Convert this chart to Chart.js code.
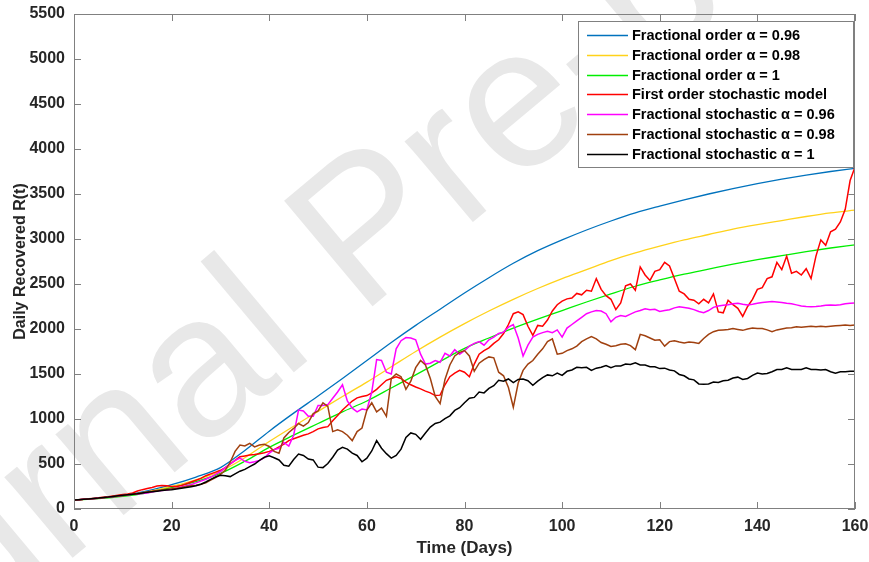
<!DOCTYPE html>
<html>
<head>
<meta charset="utf-8">
<title>Daily Recovered R(t)</title>
<script src="https://cdn.jsdelivr.net/npm/chart.js@4.4.1/dist/chart.umd.min.js"></script>
<style>
  html, body { margin: 0; padding: 0; background: #fff; }
  #wrap { width: 869px; height: 562px; }
</style>
</head>
<body>
<div id="wrap"><canvas id="chart" width="869" height="562"></canvas></div>
<script>
// axis ticks
const xTicks = [0, 20, 40, 60, 80, 100, 120, 140, 160];
const yTicks = [0, 500, 1000, 1500, 2000, 2500, 3000, 3500, 4000, 4500, 5000, 5500];

// time grid (days) for the stochastic runs, one value per day
const days = Array.from({ length: 161 }, (_, i) => i);
// coarser grid for the smooth fractional-order curves
const smoothDays = [0, 5, 10, 15, 20, 25, 30, 35, 40, 45, 50, 55, 60, 65, 70, 75, 80,
  85, 90, 95, 100, 105, 110, 115, 120, 125, 130, 135, 140, 145, 150, 155, 160];

const fracOrder096 = [100, 120, 150, 200, 270, 355, 460, 650, 865, 1065, 1255, 1450, 1650, 1850, 2040, 2220, 2400,
  2570, 2730, 2870, 2990, 3100, 3200, 3290, 3365, 3435, 3500, 3560, 3615, 3665, 3710, 3750, 3785];
const fracOrder098 = [100, 118, 145, 190, 250, 325, 420, 570, 750, 920, 1085, 1250, 1410, 1580, 1750, 1910, 2060,
  2200, 2330, 2450, 2560, 2660, 2760, 2845, 2920, 2990, 3050, 3110, 3160, 3205, 3250, 3290, 3320];
const fracOrder1 = [100, 115, 140, 180, 238, 305, 395, 530, 685, 820, 950, 1080, 1200, 1345, 1490, 1640, 1785,
  1900, 2010, 2110, 2205, 2300, 2390, 2475, 2545, 2610, 2665, 2720, 2770, 2815, 2860, 2900, 2935];

const firstOrderStoch = [
  100, 104, 108, 113, 118, 124, 130, 137, 145, 152,
  160, 168, 178, 200, 215, 228, 240, 255, 262, 258,
  250, 250, 262, 280, 300, 320, 340, 370, 390, 410,
  430, 460, 500, 540, 580, 590, 600, 605, 615, 625,
  640, 660, 690, 720, 760, 780, 800, 820, 835, 860,
  890, 905, 915, 980, 1040, 1100, 1150, 1200, 1235, 1250,
  1260, 1290, 1330, 1380, 1430, 1450, 1470, 1450, 1410, 1380,
  1355, 1335, 1310, 1290, 1260, 1265, 1380, 1470, 1510, 1540,
  1520, 1470, 1610, 1720, 1760, 1790, 1840, 1880, 1950, 2050,
  2170, 2190, 2160, 2030, 1930, 2040, 2030, 2100, 2200, 2270,
  2310, 2335, 2345, 2395, 2380, 2430, 2420, 2560, 2440, 2370,
  2330, 2215, 2290, 2480, 2500, 2430, 2690, 2600, 2540, 2640,
  2660, 2740, 2700, 2560, 2420, 2390, 2330, 2320, 2280, 2330,
  2290, 2390, 2190, 2180, 2320, 2270, 2230, 2140, 2250, 2330,
  2440, 2460, 2560, 2580, 2740, 2660, 2810, 2620, 2640, 2600,
  2670, 2560, 2810, 2990, 2930, 3080, 3110, 3190, 3330, 3650,
  3800];

const fracStoch096 = [
  100, 103, 107, 111, 115, 120, 125, 131, 137, 143,
  150, 156, 163, 168, 172, 178, 190, 200, 205, 212,
  222, 232, 245, 258, 272, 290, 310, 330, 355, 385,
  415, 460, 500, 540, 565, 530, 515, 525, 540, 570,
  620, 660, 675, 740, 700, 820, 1100, 1090, 1030, 1030,
  1150, 1150, 1160, 1230, 1300, 1380, 1200, 1120, 1080, 1110,
  1100, 1300, 1660, 1650, 1520, 1500, 1780, 1870, 1905, 1900,
  1880, 1720, 1610, 1620, 1650, 1630, 1730, 1700, 1770, 1720,
  1760, 1810, 1840, 1860, 1820, 1880, 1910, 1950, 1965, 2020,
  2050, 1900, 1700, 1820, 1910, 1940, 1960, 1975, 1960, 1990,
  1910, 2010, 2050, 2090, 2130, 2170, 2190, 2205, 2200, 2170,
  2080, 2130, 2150, 2140, 2165, 2190, 2205, 2225, 2215, 2220,
  2195, 2205, 2215, 2235, 2248, 2240, 2230, 2215, 2195, 2180,
  2205, 2240, 2255, 2265, 2270, 2280, 2285, 2275, 2268, 2275,
  2285, 2295, 2300, 2305, 2300, 2295, 2285, 2280, 2268, 2255,
  2250, 2248, 2250, 2255, 2265, 2268, 2265, 2270, 2280, 2285,
  2290];

const fracStoch098 = [
  100, 104, 108, 112, 116, 120, 126, 132, 140, 145,
  150, 158, 166, 172, 180, 190, 196, 205, 212, 220,
  225, 232, 240, 250, 258, 265, 275, 290, 320, 350,
  385, 430, 520, 640, 710, 700, 730, 690, 710, 720,
  695, 640, 620, 790, 850, 895, 950, 920, 960, 1060,
  1090, 1180, 1140, 860, 880, 860, 820, 760, 860, 900,
  1100, 1180, 1080, 1120, 1030, 1450, 1500, 1470, 1330, 1420,
  1570, 1650, 1600, 1450, 1250, 1170, 1440, 1600, 1700, 1740,
  1760, 1700, 1530, 1620, 1660, 1690, 1680, 1520, 1480, 1350,
  1130, 1400, 1540, 1610, 1650, 1720, 1780, 1860, 1890, 1720,
  1730, 1760, 1780, 1810, 1860, 1890, 1915, 1890, 1850, 1830,
  1805, 1815, 1830, 1835, 1815, 1770, 1940, 1925, 1900, 1875,
  1880, 1810, 1860, 1870, 1855, 1845, 1855, 1850, 1840, 1895,
  1940, 1970, 1985, 1990, 1995, 2005, 1995, 1985, 2000, 2010,
  2005, 2005, 1990, 1970, 1990, 2000, 2010, 2015, 2025, 2020,
  2025, 2030, 2025, 2030, 2025, 2030, 2035, 2040, 2045, 2040,
  2045];

const fracStoch1 = [
  100, 103, 107, 112, 118, 122, 128, 133, 140, 146,
  152, 158, 165, 170, 178, 186, 192, 198, 205, 210,
  215, 222, 230, 238, 248, 258, 275, 300, 330, 355,
  375, 370, 360, 390, 420, 440, 470, 500, 540, 575,
  590, 570, 545, 485, 475, 550, 610, 595, 555, 545,
  465, 460, 505, 575, 655, 685, 665, 620, 595, 525,
  565, 645, 760, 675, 615, 565, 595, 665, 795, 845,
  830, 775, 845, 910, 950, 965, 1005, 1035, 1095, 1125,
  1180, 1230, 1240, 1300, 1290, 1340, 1370, 1430, 1420, 1445,
  1405, 1440, 1445, 1425, 1375, 1420, 1460, 1490, 1480, 1510,
  1485, 1530, 1545, 1575, 1570, 1575, 1540, 1565, 1575, 1595,
  1570, 1590, 1590, 1610, 1605, 1625, 1600, 1600, 1580, 1580,
  1560, 1565, 1545, 1535, 1495, 1480, 1445, 1435, 1390, 1385,
  1390, 1410, 1405, 1425, 1430, 1455, 1465, 1440, 1450, 1485,
  1510, 1500, 1505, 1525, 1550, 1550, 1570, 1550, 1550, 1550,
  1570, 1550, 1550, 1545, 1550, 1525, 1510, 1525, 1525, 1530,
  1530];

const FONT = '"Liberation Sans", Arial, Helvetica, sans-serif';
const TXT = '#262626';

function pts(xs, ys) {
  return xs.map((x, i) => ({ x: x, y: ys[i] }));
}

// grey "Journal Pre-proof" stamp behind everything
const stamp = {
  id: 'stamp',
  beforeDraw(chart) {
    const ctx = chart.ctx;
    ctx.save();
    ctx.translate(-185, 774);
    ctx.rotate(-40 * Math.PI / 180);
    ctx.font = '200px ' + FONT;
    ctx.fillStyle = '#e8e8e8';
    ctx.textBaseline = 'alphabetic';
    ctx.fillText('Journal Pre-proof', 0, 0);
    ctx.restore();
  }
};

// MATLAB style box with inward ticks on all four sides
const frame = {
  id: 'frame',
  afterDatasetsDraw(chart) {
    const { ctx, chartArea: a, scales } = chart;
    const len = 7;
    ctx.save();
    ctx.strokeStyle = '#808080';
    ctx.lineWidth = 1;
    ctx.strokeRect(a.left + 0.5, a.top + 0.5, a.width - 1, a.height - 1);
    ctx.beginPath();
    scales.x.ticks.forEach(t => {
      const px = Math.round(scales.x.getPixelForValue(t.value)) + 0.5;
      ctx.moveTo(px, a.bottom); ctx.lineTo(px, a.bottom - len);
      ctx.moveTo(px, a.top); ctx.lineTo(px, a.top + len);
    });
    scales.y.ticks.forEach(t => {
      const py = Math.round(scales.y.getPixelForValue(t.value)) + 0.5;
      ctx.moveTo(a.left, py); ctx.lineTo(a.left + len, py);
      ctx.moveTo(a.right, py); ctx.lineTo(a.right - len, py);
    });
    ctx.stroke();
    ctx.restore();
  }
};

// legend box in the upper right corner of the plot
const boxLegend = {
  id: 'boxLegend',
  afterDraw(chart) {
    const { ctx, chartArea: a } = chart;
    const w = 275, h = 146, rowH = 19.8;
    const left = a.right - 2 - w, top = a.top + 7;
    ctx.save();
    ctx.fillStyle = '#fff';
    ctx.fillRect(left, top, w, h);
    ctx.strokeStyle = '#808080';
    ctx.lineWidth = 1;
    ctx.strokeRect(left + 0.5, top + 0.5, w, h);
    ctx.font = 'bold 14.5px ' + FONT;
    ctx.textBaseline = 'middle';
    chart.data.datasets.forEach((ds, i) => {
      const cy = Math.round(top + 14 + i * rowH) + 0.5;
      ctx.strokeStyle = ds.borderColor;
      ctx.lineWidth = 1.5;
      ctx.beginPath();
      ctx.moveTo(left + 9, cy);
      ctx.lineTo(left + 50, cy);
      ctx.stroke();
      ctx.fillStyle = '#000';
      ctx.fillText(ds.label, left + 54, cy);
    });
    ctx.restore();
  }
};

const smooth = { pointRadius: 0, borderWidth: 1.3, cubicInterpolationMode: 'monotone', fill: false };
const noisy = { pointRadius: 0, borderWidth: 1.5, tension: 0, fill: false };

new Chart(document.getElementById('chart'), {
  type: 'line',
  data: {
    datasets: [
      Object.assign({ label: 'Fractional order α = 0.96', data: pts(smoothDays, fracOrder096), borderColor: '#0072BD', order: 7 }, smooth),
      Object.assign({ label: 'Fractional order α = 0.98', data: pts(smoothDays, fracOrder098), borderColor: '#FFD21A', order: 6 }, smooth),
      Object.assign({ label: 'Fractional order α = 1', data: pts(smoothDays, fracOrder1), borderColor: '#00EE00', order: 5 }, smooth),
      Object.assign({ label: 'First order stochastic model', data: pts(days, firstOrderStoch), borderColor: '#FF0000', order: 4 }, noisy),
      Object.assign({ label: 'Fractional stochastic α = 0.96', data: pts(days, fracStoch096), borderColor: '#FF00FF', order: 3 }, noisy),
      Object.assign({ label: 'Fractional stochastic α = 0.98', data: pts(days, fracStoch098), borderColor: '#A0400F', order: 2 }, noisy),
      Object.assign({ label: 'Fractional stochastic α = 1', data: pts(days, fracStoch1), borderColor: '#000000', order: 1 }, noisy)
    ]
  },
  options: {
    responsive: false,
    animation: false,
    layout: { padding: { top: 14, right: 14, left: 0, bottom: 0 } },
    plugins: {
      legend: { display: false },
      tooltip: { enabled: false }
    },
    scales: {
      x: {
        type: 'linear',
        min: 0,
        max: 160,
        afterBuildTicks: s => { s.ticks = xTicks.map(v => ({ value: v })); },
        afterFit: s => { s.height = 53; s.paddingLeft = 0; s.paddingRight = 0; },
        grid: { display: false, drawTicks: false },
        border: { display: false },
        ticks: { color: TXT, padding: 8, maxRotation: 0, callback: v => String(v),
          font: { family: FONT, size: 16, weight: 'bold' } },
        title: { display: true, text: 'Time (Days)', color: TXT, padding: { top: 0, bottom: 3 },
          font: { family: FONT, size: 17, weight: 'bold' } }
      },
      y: {
        type: 'linear',
        min: 0,
        max: 5500,
        afterBuildTicks: s => { s.ticks = yTicks.map(v => ({ value: v })); },
        afterFit: s => { s.width = 74; s.paddingTop = 0; s.paddingBottom = 0; },
        grid: { display: false, drawTicks: false },
        border: { display: false },
        ticks: { color: TXT, padding: 9, callback: v => String(v),
          font: { family: FONT, size: 16, weight: 'bold' } },
        title: { display: true, text: 'Daily Recovered R(t)', color: TXT, padding: { top: 11, bottom: 0 },
          font: { family: FONT, size: 16, weight: 'bold' } }
      }
    }
  },
  plugins: [stamp, frame, boxLegend]
});
</script>
</body>
</html>
